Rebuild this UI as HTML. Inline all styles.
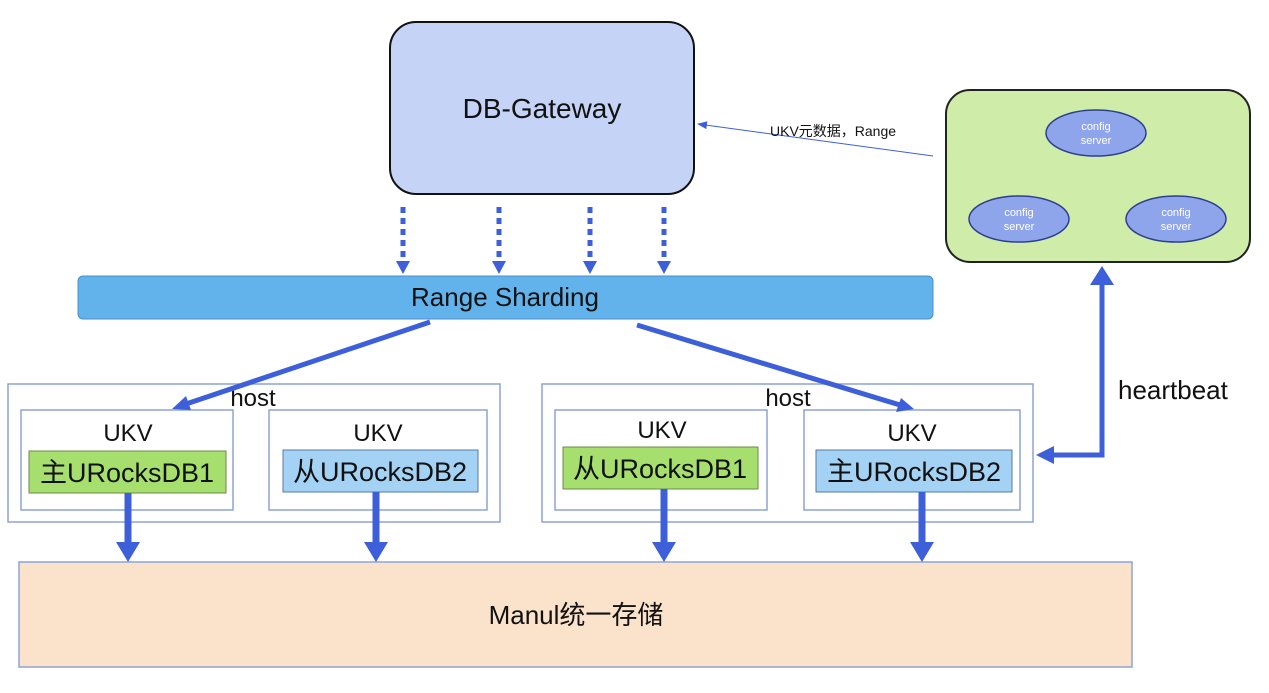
<!DOCTYPE html>
<html><head><meta charset="utf-8"><style>
body{margin:0;background:#fff;}
svg{display:block;font-family:"Liberation Sans","Noto Sans CJK SC",sans-serif;}
</style></head><body>
<svg width="1269" height="693" viewBox="0 0 1269 693" xmlns="http://www.w3.org/2000/svg">
<defs>
<marker id="ah2" markerWidth="10" markerHeight="10" refX="9" refY="5" orient="auto" markerUnits="userSpaceOnUse"><path d="M0,1 L10,5 L0,9 Z" fill="#3d5fd9"/></marker>
</defs>
<rect width="1269" height="693" fill="#fff"/>
<rect x="390" y="22" width="304" height="172" rx="26" fill="#c4d3f6" stroke="#111" stroke-width="2"/>
<text x="542" y="118" font-size="28" text-anchor="middle" fill="#111">DB-Gateway</text>
<rect x="946" y="90" width="304" height="172" rx="24" fill="#cfeda8" stroke="#222" stroke-width="2"/>
<g fill="#8ea5ec" stroke="#2d3f8f" stroke-width="1.5">
<ellipse cx="1096" cy="133" rx="50" ry="23"/>
<ellipse cx="1019" cy="219" rx="50" ry="23"/>
<ellipse cx="1176" cy="219" rx="50" ry="23"/>
</g>
<g fill="#fff" font-size="11" text-anchor="middle">
<text x="1096" y="130">config</text><text x="1096" y="144">server</text>
<text x="1019" y="216">config</text><text x="1019" y="230">server</text>
<text x="1176" y="216">config</text><text x="1176" y="230">server</text>
</g>
<line x1="933" y1="156" x2="698" y2="124" stroke="#3d5fd9" stroke-width="1" marker-end="url(#ah2)"/>
<text x="770" y="136" font-size="14" fill="#111">UKV元数据，Range</text>
<g stroke="#3d5fd9" stroke-width="5" stroke-dasharray="6,5">
<line x1="403" y1="207" x2="403" y2="262"/><line x1="499" y1="207" x2="499" y2="262"/>
<line x1="590" y1="207" x2="590" y2="262"/><line x1="664" y1="207" x2="664" y2="262"/>
</g>
<g fill="#3d5fd9">
<path d="M396,261 L410,261 L403,274 Z"/><path d="M492,261 L506,261 L499,274 Z"/>
<path d="M583,261 L597,261 L590,274 Z"/><path d="M657,261 L671,261 L664,274 Z"/>
</g>
<rect x="78" y="276" width="855" height="43" rx="5" fill="#62b2ec" stroke="#4a8fcc" stroke-width="1"/>
<text x="505" y="306" font-size="26" text-anchor="middle" fill="#111">Range Sharding</text>
<g fill="#fff" stroke="#8ea4d4" stroke-width="1.5">
<rect x="8" y="384" width="492" height="138"/>
<rect x="542" y="384" width="491" height="138"/>
<rect x="21" y="410" width="212" height="100"/>
<rect x="269" y="410" width="218" height="100"/>
<rect x="555" y="410" width="212" height="100"/>
<rect x="804" y="410" width="216" height="100"/>
</g>
<g font-size="24" fill="#111" text-anchor="middle">
<text x="253" y="406">host</text><text x="788" y="406">host</text>
<text x="128" y="441">UKV</text><text x="378" y="441">UKV</text>
<text x="662" y="438">UKV</text><text x="912" y="441">UKV</text>
</g>
<rect x="29" y="451" width="197" height="42" fill="#a7df6e" stroke="#6a8a4a" stroke-width="1"/>
<rect x="283" y="450" width="195" height="42" fill="#a3d2f5" stroke="#5a7aa0" stroke-width="1"/>
<rect x="563" y="447" width="195" height="42" fill="#a7df6e" stroke="#6a8a4a" stroke-width="1"/>
<rect x="816" y="450" width="196" height="42" fill="#a3d2f5" stroke="#5a7aa0" stroke-width="1"/>
<g font-size="27" fill="#111" text-anchor="middle">
<text x="127" y="482">主URocksDB1</text><text x="380" y="481">从URocksDB2</text>
<text x="660" y="478">从URocksDB1</text><text x="914" y="481">主URocksDB2</text>
</g>
<line x1="430" y1="322" x2="186" y2="404" stroke="#3d5fd9" stroke-width="5"/>
<path d="M172,409 L186,396 L191,410 Z" fill="#3d5fd9"/>
<line x1="637" y1="325" x2="900" y2="405" stroke="#3d5fd9" stroke-width="5"/>
<path d="M914,409 L896,412 L901,398 Z" fill="#3d5fd9"/>
<rect x="19" y="562" width="1113" height="105" fill="#fbe2ca" stroke="#8ea4d4" stroke-width="1.5"/>
<text x="576" y="624" font-size="26" text-anchor="middle" fill="#111">Manul统一存储</text>
<g stroke="#3d5fd9" stroke-width="7">
<line x1="128" y1="493" x2="128" y2="545"/><line x1="376" y1="492" x2="376" y2="545"/>
<line x1="664" y1="489" x2="664" y2="545"/><line x1="922" y1="492" x2="922" y2="545"/>
</g>
<g fill="#3d5fd9">
<path d="M116,542 L140,542 L128,562 Z"/><path d="M364,542 L388,542 L376,562 Z"/>
<path d="M652,542 L676,542 L664,562 Z"/><path d="M910,542 L934,542 L922,562 Z"/>
</g>
<polyline points="1050,455 1102,455 1102,285" fill="none" stroke="#3d5fd9" stroke-width="5"/>
<path d="M1090,285 L1114,285 L1102,266 Z" fill="#3d5fd9"/>
<path d="M1036,455 L1054,446 L1054,464 Z" fill="#3d5fd9"/>
<text x="1118" y="399" font-size="26" fill="#111">heartbeat</text>
</svg>
</body></html>
